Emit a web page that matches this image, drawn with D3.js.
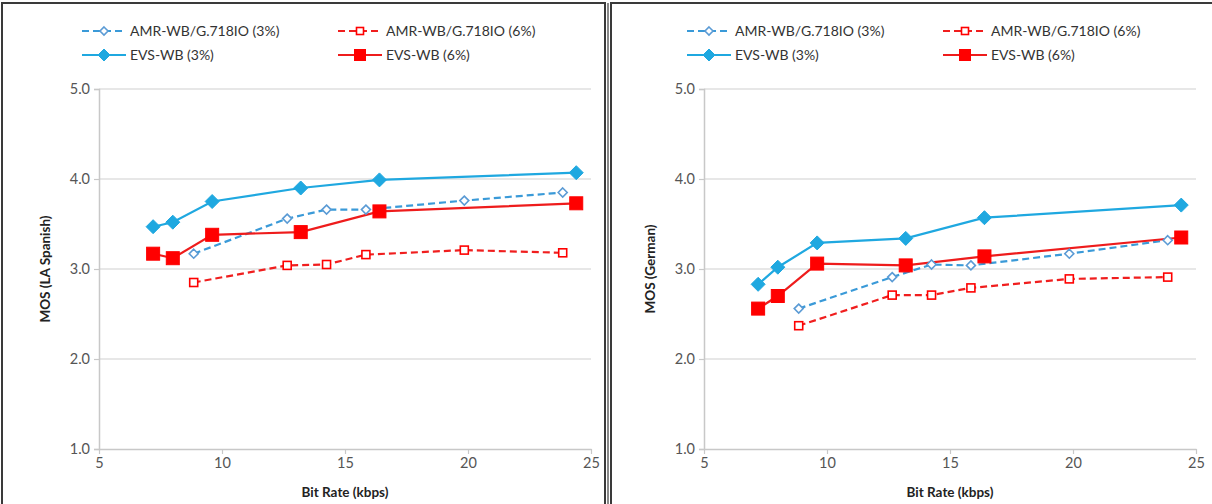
<!DOCTYPE html>
<html><head><meta charset="utf-8">
<script src="https://cdn.jsdelivr.net/npm/d3@7"></script>
<style>
body{margin:0;background:#fff;}
text{font-family:Lato,"Open Sans",sans-serif;}
</style></head>
<body><svg id="chart" width="1212" height="504"></svg>
<script>
// ---- data ----
const seriesNames = ["AMR-WB/G.718IO (3%)", "AMR-WB/G.718IO (6%)", "EVS-WB (3%)", "EVS-WB (6%)"];
const amrRates = [8.85, 12.65, 14.25, 15.85, 19.85, 23.85];
const evsRates = [7.2, 8.0, 9.6, 13.2, 16.4, 24.4];
const xTicks = [5, 10, 15, 20, 25];
const yTicks = [1.0, 2.0, 3.0, 4.0, 5.0];

// LA Spanish
const spanishAmr3 = [3.17, 3.56, 3.66, 3.66, 3.76, 3.85];
const spanishAmr6 = [2.85, 3.04, 3.05, 3.16, 3.21, 3.18];
const spanishEvs3 = [3.47, 3.52, 3.75, 3.90, 3.99, 4.07];
const spanishEvs6 = [3.17, 3.12, 3.38, 3.41, 3.64, 3.73];
// German
const germanAmr3 = [2.56, 2.91, 3.05, 3.04, 3.17, 3.32];
const germanAmr6 = [2.37, 2.71, 2.71, 2.79, 2.89, 2.91];
const germanEvs3 = [2.83, 3.02, 3.29, 3.34, 3.57, 3.71];
const germanEvs6 = [2.56, 2.70, 3.06, 3.04, 3.14, 3.35];

const panels = [
  {ox: 0, title: "MOS (LA Spanish)", data: [spanishAmr3, spanishAmr6, spanishEvs3, spanishEvs6]},
  {ox: 605, title: "MOS (German)", data: [germanAmr3, germanAmr6, germanEvs3, germanEvs6]}
];

const styles = [
  {color: "#3a9ad8", mcolor: "#5b9bd5", dash: "7,4", marker: "diamond", filled: false, size: 9, rates: amrRates},
  {color: "#f01e1e", mcolor: "#ff0000", dash: "7,4", marker: "square", filled: false, size: 9, rates: amrRates},
  {color: "#1fa8e0", mcolor: "#1fa8e0", dash: null, marker: "diamond", filled: true, size: 14, rates: evsRates},
  {color: "#ee1c1c", mcolor: "#ff0000", dash: null, marker: "square", filled: true, size: 13, rates: evsRates}
];

const svg = d3.select("#chart");

function drawMarker(g, st, x, y) {
  if (st.marker === "diamond") {
    const s = st.size / 2;
    g.append("path").attr("d", `M${x},${y - s}L${x + s},${y}L${x},${y + s}L${x - s},${y}Z`)
      .attr("fill", st.filled ? st.mcolor : "#fff")
      .attr("stroke", st.mcolor).attr("stroke-width", st.filled ? 1 : 1.6);
  } else {
    const s = st.filled ? st.size : st.size - 1;
    g.append("rect").attr("x", x - s / 2).attr("y", y - s / 2).attr("width", s).attr("height", s)
      .attr("fill", st.filled ? st.mcolor : "#fff")
      .attr("stroke", st.mcolor).attr("stroke-width", st.filled ? 1 : 1.6);
  }
}

panels.forEach((p, pi) => {
  const g = svg.append("g").attr("transform", `translate(${p.ox},0)`);
  // frame
  g.append("rect").attr("x", pi === 0 ? 2 : 6).attr("y", 3)
    .attr("width", pi === 0 ? 603 : 610).attr("height", 510)
    .attr("fill", "none").attr("stroke", "#3a3a3a").attr("stroke-width", 2);
  if (pi === 1) {
    g.append("line").attr("x1", 3).attr("x2", 3).attr("y1", 3).attr("y2", 504)
      .attr("stroke", "#3a3a3a").attr("stroke-width", 1.2);
  }

  const x = d3.scaleLinear().domain([5, 25]).range([99, 591]);
  const y = d3.scaleLinear().domain([1, 5]).range([449, 89]);

  // gridlines
  g.append("g").selectAll("line").data(yTicks.slice(1)).join("line")
    .attr("x1", 99).attr("x2", 591).attr("y1", d => y(d)).attr("y2", d => y(d))
    .attr("stroke", "#d0d0d0").attr("stroke-width", 1.2);

  // y axis
  const yAxis = g.append("g").attr("transform", "translate(99,0)")
    .call(d3.axisLeft(y).tickValues(yTicks).tickFormat(d3.format(".1f")).tickSize(5).tickPadding(4));
  yAxis.select(".domain").attr("stroke", "#c8c8c8").attr("stroke-width", 1.5);
  yAxis.selectAll(".tick line").attr("stroke", "#c8c8c8").attr("stroke-width", 1.2);
  yAxis.selectAll(".tick text").attr("fill", "#555").attr("font-size", 14.5).attr("font-family", "Lato, sans-serif");

  // x axis
  const xAxis = g.append("g").attr("transform", "translate(0,449)")
    .call(d3.axisBottom(x).tickValues(xTicks).tickSize(5).tickSizeOuter(0).tickPadding(4));
  xAxis.select(".domain").attr("stroke", "#c8c8c8").attr("stroke-width", 1.5);
  xAxis.selectAll(".tick line").attr("stroke", "#c8c8c8").attr("stroke-width", 1.2);
  xAxis.selectAll(".tick text").attr("fill", "#555").attr("font-size", 14.5).attr("font-family", "Lato, sans-serif");

  // axis titles
  g.append("text").attr("transform", `translate(50,269) rotate(-90)`)
    .attr("text-anchor", "middle").attr("font-weight", "bold").attr("font-size", 13.5)
    .attr("fill", "#222").text(p.title);
  g.append("text").attr("x", 345).attr("y", 497).attr("text-anchor", "middle")
    .attr("font-weight", "bold").attr("font-size", 13.5).attr("fill", "#222").text("Bit Rate (kbps)");

  // series
  const line = d3.line().x(d => x(d[0])).y(d => y(d[1]));
  p.data.forEach((vals, si) => {
    const st = styles[si];
    const pts = st.rates.map((r, i) => [r, vals[i]]);
    g.append("path").attr("d", line(pts)).attr("fill", "none")
      .attr("stroke", st.color).attr("stroke-width", 2.2)
      .attr("stroke-dasharray", st.dash);
  });
  p.data.forEach((vals, si) => {
    const st = styles[si];
    const mg = g.append("g");
    st.rates.forEach((r, i) => drawMarker(mg, st, x(r), y(vals[i])));
  });

  // legend
  const legPos = [[82, 31], [338, 31], [82, 55], [338, 55]];
  seriesNames.forEach((name, si) => {
    const st = styles[si];
    const [lx, ly] = legPos[si];
    const lg = g.append("g");
    lg.append("line").attr("x1", lx).attr("x2", lx + 44).attr("y1", ly).attr("y2", ly)
      .attr("stroke", st.color).attr("stroke-width", 2.2).attr("stroke-dasharray", st.dash);
    drawMarker(lg, Object.assign({}, st, {size: st.filled ? st.size - 2 : st.size - 1}), lx + 22, ly);
    lg.append("text").attr("x", lx + 48).attr("y", ly + 5).attr("font-size", 14)
      .attr("fill", "#333").text(name);
  });
});
</script>
</body></html>
